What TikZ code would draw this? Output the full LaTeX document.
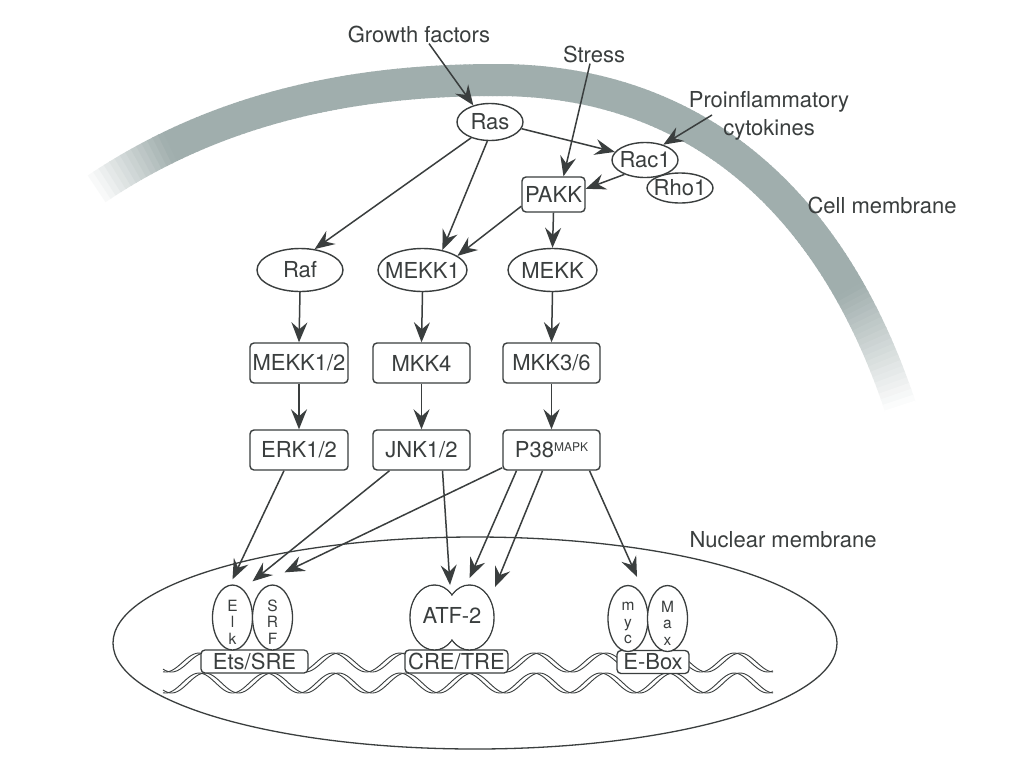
\documentclass[tikz,border=0pt]{standalone}
\usepackage{fontspec}
\setmainfont{TeX Gyre Heros}
\usetikzlibrary{arrows.meta,shapes.geometric,calc}
\definecolor{ink}{RGB}{58,62,62}
\definecolor{memb}{RGB}{160,174,173}
\newcommand\labfont{\fontsize{22}{28}\selectfont}
\newcommand\letfont{\fontsize{15.5}{16.5}\selectfont}
\newcommand\supfont{\fontsize{12}{12}\selectfont}
\tikzset{
  arr/.style={draw=ink, line width=1.5pt, -{Stealth[length=20pt,width=16pt,inset=7pt]}},
  oval/.style={ellipse, draw=ink, line width=1.4pt, fill=white, text=ink, inner sep=0pt, font=\labfont},
  kbox/.style={rectangle, rounded corners=4pt, draw=ink, line width=1.4pt, fill=white, text=ink, inner sep=0pt, minimum width=97pt, minimum height=40pt, font=\labfont},
  sitebox/.style={rectangle, rounded corners=4pt, draw=ink, line width=1.3pt, fill=white, text=ink, inner sep=0pt, minimum height=23pt, font=\labfont},
  prot/.style={ellipse, draw=ink, line width=1.3pt, fill=white, inner sep=0pt, minimum width=40pt, minimum height=65pt},
  lett/.style={text=ink, font=\letfont, align=center, inner sep=0pt},
  txt/.style={text=ink, font=\labfont, inner sep=1pt},
  dna/.style={draw=ink, line width=0.9pt},
  membseg/.style={line width=32pt, shorten <=-0.6pt, shorten >=-0.6pt},
}
\begin{document}
\begin{tikzpicture}[x=1pt,y=-1pt]
\fill[white] (0,0) rectangle (1024,774);
\useasboundingbox (0,0) rectangle (1024,774);

% cell membrane band (sampled along two Bezier curves, faded at the ends)
\foreach \k in {0,...,80} {
  \pgfmathsetmacro\t{\k/80}
  \path (92,192) .. controls (230,97) and (380,80) .. (497,80) coordinate[pos=\t] (a\k);
}
\foreach \k in {0,...,110} {
  \pgfmathsetmacro\t{\k/110}
  \path (497,80) .. controls (691,80) and (832,196) .. (902,412) coordinate[pos=\t] (b\k);
}
\foreach \k in {1,...,80} {
  \pgfmathtruncatemacro\p{\k-1}
  \pgfmathtruncatemacro\c{min(100,7*\p)}
  \draw[membseg, color=memb!\c!white] (a\p) -- (a\k);
}
\foreach \k in {1,...,110} {
  \pgfmathtruncatemacro\p{\k-1}
  \pgfmathtruncatemacro\c{min(100,4.5*(110-\k))}
  \draw[membseg, color=memb!\c!white] (b\p) -- (b\k);
}

% labels
\node[txt, anchor=base] (gf) at (419,42) {Growth factors};
\node[txt, anchor=base] (stress) at (594,62) {Stress};
\node[txt, align=center] (pro) at (769,116) {Proinflammatory\\cytokines};
\node[txt, anchor=base] (cm) at (882,213) {Cell membrane};
\node[txt, anchor=base] (nm) at (783,547) {Nuclear membrane};
\coordinate (proarr) at (712,115);

% nucleus
\draw[ink, line width=1.3pt] (475,643) ellipse [x radius=362pt, y radius=106pt];

% DNA (two double strands)
\foreach \ph in {-16,16} {
  \draw[dna] plot[domain=163:773, samples=260, smooth] (\x, {662.5 - 9.5*cos(5.3812*(\x-202) + \ph)});
  \draw[dna] plot[domain=163:773, samples=260, smooth] (\x, {683 - 10*cos(5.3812*(\x-202) + \ph)});
}

% binding sites
\node[sitebox, minimum width=107pt] (ets) at (254.5,661.5) {Ets/SRE};
\node[sitebox, minimum width=103pt] (cre) at (456.5,661.5) {CRE/TRE};
\node[sitebox, minimum width=72pt] (ebox) at (653,662) {E-Box};

% transcription factors
\node[prot] (elk) at (232.5,617.5) {};
\node[prot] (srf) at (272.5,617.5) {};
\node[lett] (elkt) at (232.5,622) {E\\l\\k};
\node[lett] (srft) at (272.5,622) {S\\R\\F};
\node[prot, minimum height=66pt] (myc) at (628,618.5) {};
\node[prot, minimum height=66pt] (max) at (667.5,618.5) {};
\node[lett] (myct) at (628,623) {m\\y\\c};
\node[lett] (maxt) at (667.5,623) {M\\a\\x};

\coordinate (atfL) at (434.4,617.5);
\coordinate (atfR) at (469.6,617.5);
\draw[ink, line width=1.4pt, fill=white] (atfL) ellipse [x radius=24.4pt, y radius=32.5pt];
\draw[ink, line width=1.4pt, fill=white] (atfR) ellipse [x radius=24.4pt, y radius=32.5pt];
\fill[white] (atfL) ellipse [x radius=23.6pt, y radius=31.7pt];
\fill[white] (atfR) ellipse [x radius=23.6pt, y radius=31.7pt];
\node[txt] (atf) at (452,615) {ATF-2};

% kinase nodes
\node[oval, minimum width=66pt, minimum height=30pt] (rho) at (680,188) {\makebox[0pt]{Rho1}};
\node[oval, minimum width=66pt, minimum height=35pt] (rac) at (645,160) {\makebox[0pt]{Rac1}};
\node[oval, minimum width=66pt, minimum height=37pt] (ras) at (490,122) {\makebox[0pt]{Ras}};
\node[kbox, minimum width=63pt, minimum height=35pt] (pakk) at (553.5,194.5) {PAKK};

\node[oval, minimum width=86pt, minimum height=43pt] (raf) at (300,270) {\makebox[0pt]{Raf}};
\node[oval, minimum width=89pt, minimum height=43pt] (mekk1) at (422.5,270) {\makebox[0pt]{MEKK1}};
\node[oval, minimum width=89pt, minimum height=43pt] (mekk) at (552.5,270) {\makebox[0pt]{MEKK}};

\node[kbox, minimum width=98pt] (mek12) at (299,363) {MEKK1/2};
\node[kbox] (mkk4) at (421.5,363) {MKK4};
\node[kbox] (mkk36) at (551.5,363) {MKK3/6};

\node[kbox, minimum width=98pt] (erk) at (299,450) {ERK1/2};
\node[kbox] (jnk) at (421.5,450) {JNK1/2};
\node[kbox] (p38) at (551.5,450) {P38\raisebox{6.8pt}{\supfont MAPK}};

% connectors
\draw[arr] ([xshift=10pt]gf.south) -- (ras.135);
\draw[arr] ([xshift=-4pt]stress.south) -- ([xshift=10pt]pakk.north);
\draw[arr] (proarr) -- (rac.40);
\draw[arr] (ras.-12) -- (rac.165);
\draw[arr] (rac.215) -- (pakk.10);
\draw[arr] (ras.220) -- (raf.55);
\draw[arr] (ras.262) -- (mekk1.45);
\draw[arr] (pakk.200) -- (mekk1.22);
\draw[arr] (pakk.south) -- (mekk.north);

\draw[arr] (raf.south) -- (mek12.north);
\draw[arr] (mekk1.south) -- (mkk4.north);
\draw[arr] (mekk.south) -- (mkk36.north);
\draw[arr] (mek12.south) -- (erk.north);
\draw[arr] (mkk4.south) -- (jnk.north);
\draw[arr] (mkk36.south) -- (p38.north);

\draw[arr] ([xshift=-15pt]erk.south) -- ([yshift=5pt]elk.north);
\draw[arr] ([xshift=-32pt]jnk.south) -- ([yshift=3pt]$(elk.north)!0.5!(srf.north)$);
\draw[arr] ([yshift=3pt]p38.south west) -- ([shift={(12pt,12pt)}]srf.north);
\draw[arr] ([xshift=21pt]jnk.south) -- ($(atfL)+(15.6,-32.5)$);
\draw[arr] ([xshift=-35pt]p38.south) -- ($(atfR)+(0,-39.5)$);
\draw[arr] ([xshift=-9pt]p38.south) -- ($(atfR)+(25.4,-30.5)$);
\draw[arr] ([xshift=38pt]p38.south) -- ([shift={(9pt,8pt)}]myc.north);
\end{tikzpicture}
\end{document}
